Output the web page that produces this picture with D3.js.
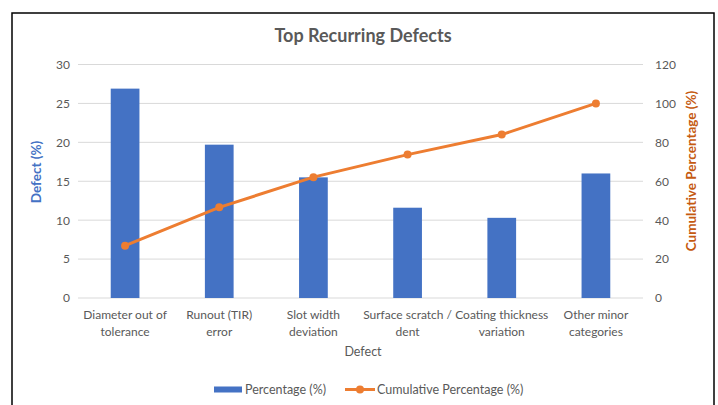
<!DOCTYPE html>
<html>
<head>
<meta charset="utf-8">
<script src="https://cdn.jsdelivr.net/npm/d3@7"></script>
<style>
  body { margin: 0; background: #fff; overflow: hidden; }
  text { font-family: Lato, "Open Sans", sans-serif; }
</style>
</head>
<body>
<script>
const categories = [
    ["Diameter out of", "tolerance"],
    ["Runout (TIR)", "error"],
    ["Slot width", "deviation"],
    ["Surface scratch /", "dent"],
    ["Coating thickness", "variation"],
    ["Other minor", "categories"]
];
const percentage = [26.9, 19.7, 15.5, 11.6, 10.3, 16.0];
const cumulative = [26.9, 46.6, 62.1, 73.7, 84.0, 100.0];
const leftTicks = [0, 5, 10, 15, 20, 25, 30];
const rightTicks = [0, 20, 40, 60, 80, 100, 120];

const width = 718, height = 405;
const plot = {left: 78, right: 643, top: 64.5, bottom: 298};
const blue = "#4472C4", orange = "#ED7D31", textGray = "#595959", grid = "#d9d9d9";

const svg = d3.select("body").append("svg")
    .attr("width", width)
    .attr("height", height);

// chart frame
svg.append("rect")
    .attr("x", 12).attr("y", 13)
    .attr("width", 702).attr("height", 400)
    .attr("fill", "#fff")
    .attr("stroke", "#000")
    .attr("stroke-width", 1.5);

svg.append("text")
    .attr("x", 363).attr("y", 42)
    .attr("text-anchor", "middle")
    .attr("fill", textGray)
    .style("font-size", "18px")
    .style("font-weight", "bold")
    .text("Top Recurring Defects");

const xScale = d3.scaleBand()
    .domain(d3.range(categories.length))
    .range([plot.left, plot.right])
    .padding(0);

const yLeft = d3.scaleLinear().domain([0, 30]).range([plot.bottom, plot.top]);
const yRight = d3.scaleLinear().domain([0, 120]).range([plot.bottom, plot.top]);

// gridlines
svg.append("g")
    .selectAll("line")
    .data(leftTicks)
    .join("line")
    .attr("x1", plot.left).attr("x2", plot.right)
    .attr("y1", d => yLeft(d)).attr("y2", d => yLeft(d))
    .attr("stroke", grid)
    .attr("stroke-width", 1);

// left axis
const leftAxis = svg.append("g")
    .attr("transform", "translate(" + (plot.left - 8) + ",0)")
    .call(d3.axisLeft(yLeft).tickValues(leftTicks).tickSize(0).tickPadding(0));
leftAxis.select(".domain").remove();
leftAxis.selectAll("text").attr("fill", textGray).style("font-size", "12px");

// right axis
const rightAxis = svg.append("g")
    .attr("transform", "translate(" + (plot.right + 12) + ",0)")
    .call(d3.axisRight(yRight).tickValues(rightTicks).tickSize(0).tickPadding(0));
rightAxis.select(".domain").remove();
rightAxis.selectAll("text").attr("fill", textGray).style("font-size", "12px");

// bars
const barW = xScale.bandwidth() * 0.305;
svg.append("g")
    .selectAll("rect")
    .data(percentage)
    .join("rect")
    .attr("x", (d, i) => xScale(i) + xScale.bandwidth() / 2 - barW / 2)
    .attr("y", d => yLeft(d))
    .attr("width", barW)
    .attr("height", d => yLeft(0) - yLeft(d))
    .attr("fill", blue);

// cumulative line
const line = d3.line()
    .x((d, i) => xScale(i) + xScale.bandwidth() / 2)
    .y(d => yRight(d));

svg.append("path")
    .datum(cumulative)
    .attr("d", line)
    .attr("fill", "none")
    .attr("stroke", orange)
    .attr("stroke-width", 3)
    .attr("stroke-linecap", "round");

svg.append("g")
    .selectAll("circle")
    .data(cumulative)
    .join("circle")
    .attr("cx", (d, i) => xScale(i) + xScale.bandwidth() / 2)
    .attr("cy", d => yRight(d))
    .attr("r", 4)
    .attr("fill", orange);

// category labels
const catG = svg.append("g")
    .selectAll("text")
    .data(categories)
    .join("text")
    .attr("text-anchor", "middle")
    .attr("fill", textGray)
    .style("font-size", "12px");
catG.each(function (d, i) {
    const t = d3.select(this);
    d.forEach((s, j) => {
        t.append("tspan")
            .attr("x", xScale(i) + xScale.bandwidth() / 2)
            .attr("y", 319 + j * 16.5)
            .text(s);
    });
});

// axis titles
svg.append("text")
    .attr("x", 363).attr("y", 356)
    .attr("text-anchor", "middle")
    .attr("fill", textGray)
    .style("font-size", "12.5px")
    .text("Defect");

svg.append("text")
    .attr("transform", "translate(41,172) rotate(-90)")
    .attr("text-anchor", "middle")
    .attr("fill", blue)
    .style("font-size", "13.5px")
    .style("font-weight", "bold")
    .text("Defect (%)");

svg.append("text")
    .attr("transform", "translate(696,171) rotate(-90)")
    .attr("text-anchor", "middle")
    .attr("fill", "#C55A11")
    .style("font-size", "13.5px")
    .style("font-weight", "bold")
    .text("Cumulative Percentage (%)");

// legend
const legend = svg.append("g");
legend.append("rect")
    .attr("x", 214).attr("y", 386.5)
    .attr("width", 28).attr("height", 6)
    .attr("fill", blue);
legend.append("text")
    .attr("x", 245).attr("y", 394)
    .attr("fill", textGray)
    .style("font-size", "12.5px")
    .text("Percentage (%)");
legend.append("line")
    .attr("x1", 345).attr("x2", 375)
    .attr("y1", 389.5).attr("y2", 389.5)
    .attr("stroke", orange)
    .attr("stroke-width", 3);
legend.append("circle")
    .attr("cx", 360).attr("cy", 389.5)
    .attr("r", 4)
    .attr("fill", orange);
legend.append("text")
    .attr("x", 377).attr("y", 394)
    .attr("fill", textGray)
    .style("font-size", "12.5px")
    .text("Cumulative Percentage (%)");
</script>
</body>
</html>
